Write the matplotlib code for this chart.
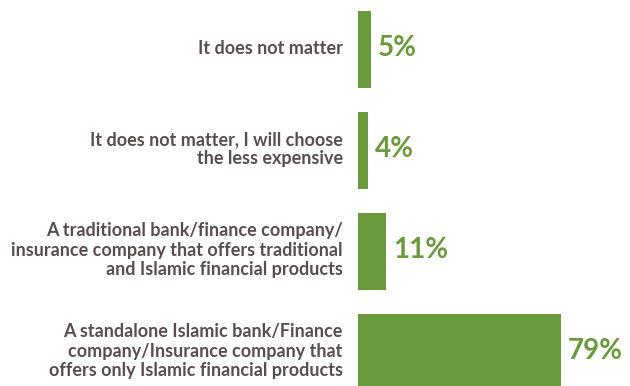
import matplotlib
matplotlib.use("Agg")
import matplotlib.pyplot as plt

categories = [
    "It does not matter",
    "It does not matter, I will choose\nthe less expensive",
    "A traditional bank/finance company/\ninsurance company that offers traditional\nand Islamic financial products",
    "A standalone Islamic bank/Finance\ncompany/Insurance company that\noffers only Islamic financial products",
]
values = [5, 4, 11, 79]
value_labels = ["5%", "4%", "11%", "79%"]

GREEN = "#6b9a3c"
GREY = "#5a4d4d"
FONT = "Lato"

fig = plt.figure(figsize=(6.3, 3.86), dpi=100)
ax = fig.add_axes([358 / 630, 0, 272 / 630, 1])

ys = list(range(len(values)))
ax.barh(ys, values, height=0.76, color=GREEN)
ax.set_xlim(0, 272 / 2.57)
ax.set_ylim(3.33, -0.49)

for y, v, lab, cat in zip(ys, values, value_labels, categories):
    ax.annotate(lab, (v, y), xytext=(5, 1), textcoords="offset points",
                va="center", ha="left", color=GREEN,
                fontsize=20, fontweight="bold", family=FONT)
    ax.annotate(cat, (0, y), xytext=(-11, 1), textcoords="offset points",
                va="center", ha="right", color=GREY, annotation_clip=False,
                fontsize=13, fontweight="bold", family=FONT, linespacing=1.17)

ax.axis("off")
fig.savefig("out.png", dpi=100)
